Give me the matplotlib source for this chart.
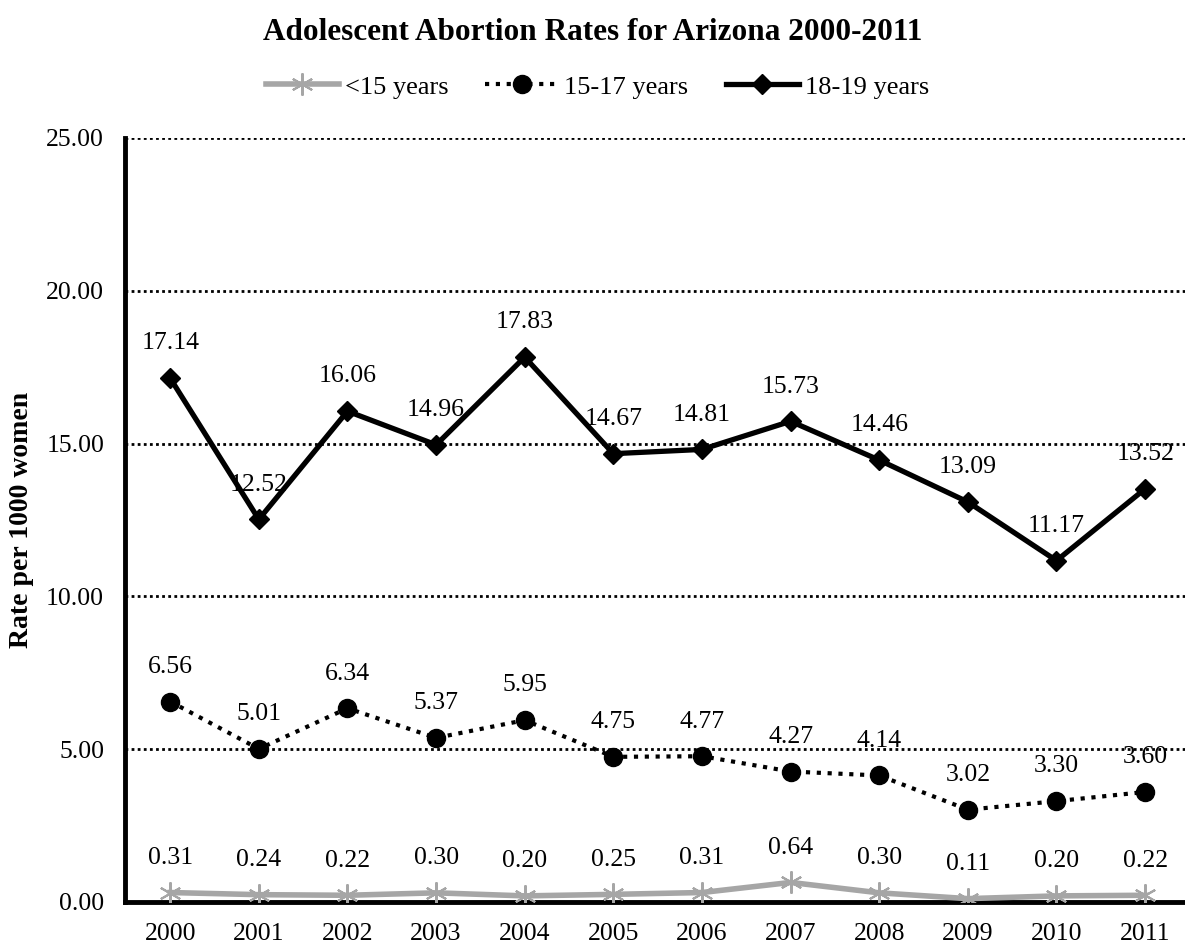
import matplotlib.pyplot as plt

plt.rcParams['font.family'] = ['Liberation Serif', 'DejaVu Serif']

years = ['2000', '2001', '2002', '2003', '2004', '2005',
         '2006', '2007', '2008', '2009', '2010', '2011']
under_15 = [0.31, 0.24, 0.22, 0.30, 0.20, 0.25, 0.31, 0.64, 0.30, 0.11, 0.20, 0.22]
age_15_17 = [6.56, 5.01, 6.34, 5.37, 5.95, 4.75, 4.77, 4.27, 4.14, 3.02, 3.30, 3.60]
age_18_19 = [17.14, 12.52, 16.06, 14.96, 17.83, 14.67, 14.81, 15.73, 14.46, 13.09, 11.17, 13.52]

W, H = 1185, 948
fig = plt.figure(figsize=(W / 100, H / 100), dpi=100)
ax = fig.add_axes([125 / W, 1 - 902 / H, 1 - 125 / W, (902 - 138) / H])

x = list(range(len(years)))

ax.plot(x, under_15, color='#A6A6A6', lw=4, marker=(6, 2, 0), ms=16, mew=1.5,
        mec='#A6A6A6', label='<15 years', zorder=3)
ax.plot(x, age_15_17, color='black', lw=3, ls=(0, (1, 1.6)), marker='o', ms=13,
        label='15-17 years', zorder=3)
ax.plot(x, age_18_19, color='black', lw=3.8, marker='D', ms=10.5,
        label='18-19 years', zorder=3)

# value labels above every point
for series in (under_15, age_15_17, age_18_19):
    for xi, v in zip(x, series):
        ax.annotate(f'{v:.2f}', (xi, v), xytext=(0, 25), textcoords='offset points',
                    ha='center', va='center', fontsize=18.5)

ticks = [0, 5, 10, 15, 20, 25]
ax.set_ylim(0, 25)
ax.set_yticks(ticks)
ax.set_yticklabels([f'{t:.2f}' for t in ticks])
ax.set_xlim(-0.51, 11.45)
ax.set_xticks(x)
ax.set_xticklabels(years)
ax.tick_params(axis='both', labelsize=18.5, length=0)
ax.tick_params(axis='x', pad=15)
ax.tick_params(axis='y', pad=15)

ax.yaxis.grid(True, color='black', ls=(0, (1, 1.2)), lw=2)
ax.set_axisbelow(True)
for s in ('top', 'right'):
    ax.spines[s].set_visible(False)
for s in ('left', 'bottom'):
    ax.spines[s].set_linewidth(3.5)

ax.set_ylabel('Rate per 1000 women', fontsize=20, fontweight='bold', labelpad=9)

fig.text(0.5, 1 - 32 / H, 'Adolescent Abortion Rates for Arizona 2000-2011',
         ha='center', va='center', fontsize=22.5, fontweight='bold')
fig.legend(loc='center', bbox_to_anchor=(0.504, 1 - 87 / H), ncol=3, frameon=False,
           fontsize=19, handlelength=2.8, columnspacing=1.4, handletextpad=0.2)

fig.savefig('out.png', dpi=100)
